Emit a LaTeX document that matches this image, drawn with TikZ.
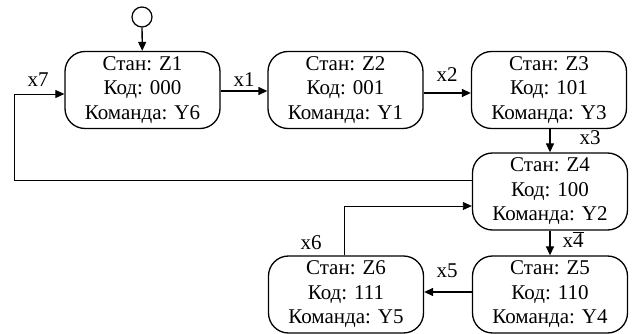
\documentclass[tikz,border=0pt]{standalone}
\usepackage{fontspec}
\setmainfont{Liberation Serif}
\usetikzlibrary{arrows.meta}
\begin{document}
\begin{tikzpicture}[x=1pt,y=-1pt,
  st/.style={draw,line width=1.3pt,rounded corners=20pt,minimum width=155pt,minimum height=77pt,
    align=center,inner sep=0pt,font=\fontsize{21}{24.5}\selectfont},
  lbl/.style={font=\fontsize{21}{24}\selectfont,inner sep=0pt},
  arr/.style={line width=1.3pt,-{Triangle[length=9pt,width=8pt]}},
  thin/.style={line width=0.8pt,-{Triangle[length=9pt,width=8pt]}}]
\useasboundingbox (0,0) rectangle (633,334);
\node[st] (z1) at (142.5,90) {Стан: Z1\\Код: 000\\Команда: Y6};
\node[st] (z2) at (345.5,90) {Стан: Z2\\Код: 001\\Команда: Y1};
\node[st] (z3) at (549,90) {Стан: Z3\\Код: 101\\Команда: Y3};
\node[st] (z4) at (550,191.5) {Стан: Z4\\Код: 100\\Команда: Y2};
\node[st] (z5) at (550,294.5) {Стан: Z5\\Код: 110\\Команда: Y4};
\node[st] (z6) at (346,294.5) {Стан: Z6\\Код: 111\\Команда: Y5};
\node[draw,circle,line width=1.2pt,minimum size=20pt,inner sep=0pt] (init) at (142,17) {};
\draw[arr] (init) -- (z1);
\draw[arr] (z1.east |- 0,91) -- (z2.west |- 0,91);
\draw[arr] (z2.east |- 0,93) -- (z3.west |- 0,93);
\draw[arr] (z3.south -| 550,0) -- (z4.north);
\draw[arr] (z4.south) -- (z5.north);
\draw[arr] (z5.west |- 0,292) -- (z6.east |- 0,292);
\coordinate (a) at (14,180);
\coordinate (b) at (14,94);
\draw[thin] (z4.west |- 0,180) -- (a) -- (b) -- (z1.west |- 0,94);
\coordinate (c) at (344,206);
\draw[thin] (z6.north -| 344,0) -- (c) -- (z4.west |- 0,206);
\node[lbl] (l7) at (38,80) {x7};
\node[lbl] (l1) at (244,80) {x1};
\node[lbl] (l2) at (447,75) {x2};
\node[lbl] (l3) at (590,138) {x3};
\node[lbl] (l4) at (573,240) {x$\overline{\hbox{4}}$};
\node[lbl] (l5) at (447,271) {x5};
\node[lbl] (l6) at (311,243) {x6};
\end{tikzpicture}
\end{document}
